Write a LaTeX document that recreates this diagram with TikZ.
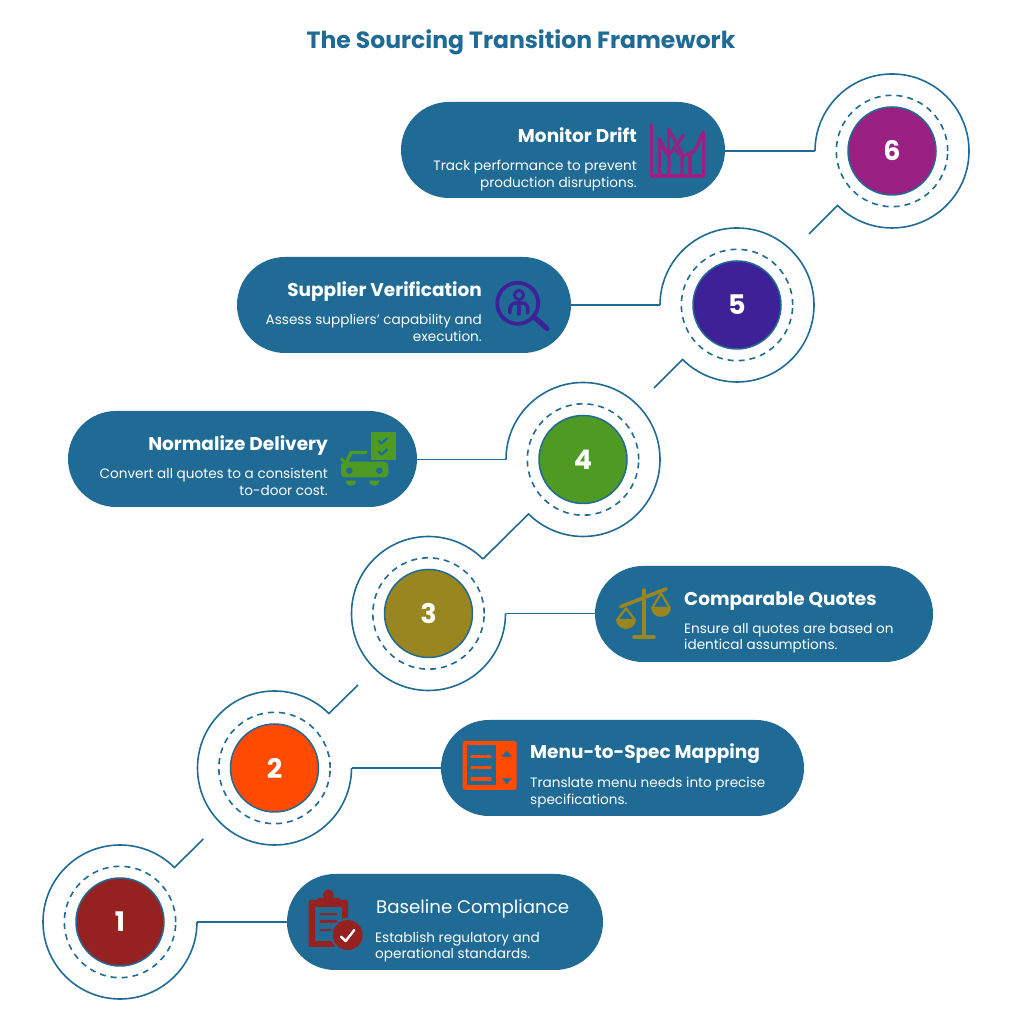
\documentclass[tikz,border=0pt]{standalone}
\usepackage{fontspec}
\setmainfont{Poppins}[Ligatures=ResetAll]
\usetikzlibrary{shapes.misc,calc}
\definecolor{teal}{HTML}{1F6B96}
\definecolor{cA}{HTML}{962121}
\definecolor{cB}{HTML}{FF4A00}
\definecolor{cC}{HTML}{9A8620}
\definecolor{cD}{HTML}{4E9A22}
\definecolor{cE}{HTML}{3E2196}
\definecolor{cF}{HTML}{9A2182}
\newcommand{\dg}[1]{\raisebox{-2pt}{#1}}
\tikzset{
  x=1pt,y=1pt,
  pill/.style={rounded rectangle,fill=teal,inner sep=0pt,minimum height=96pt},
  disc/.style={circle,draw=teal,line width=1.5pt,minimum size=88pt,inner sep=0pt,text=white,font=\fontsize{27}{27}\selectfont\bfseries},
  ringline/.style={draw=teal,line width=1.6pt},
  dashring/.style={draw=teal,line width=1.6pt,dash pattern=on 6pt off 5pt},
  head/.style={inner sep=0pt,text=white,font=\fontsize{18.5}{20}\selectfont\bfseries},
  body/.style={inner sep=0pt,text=white,font=\fontsize{13.6}{16.5}\selectfont},
  ico/.style={shift={#1},x=1pt,y=-1pt},
}
\begin{document}
\begin{tikzpicture}
\useasboundingbox (0,0) rectangle (1014,1024);
\node[inner sep=0pt,text=teal,font=\fontsize{23.5}{24}\selectfont\bfseries] (ttl) at (521,982) {The Sourcing Transition Framework};

% pills
\node[pill,minimum width=316pt] (p1) at (445,102) {};
\node[pill,minimum width=363pt] (p2) at (622.5,256) {};
\node[pill,minimum width=338pt] (p3) at (764,410) {};
\node[pill,minimum width=349pt] (p4) at (242.5,565) {};
\node[pill,minimum width=334pt] (p5) at (404,719) {};
\node[pill,minimum width=324pt] (p6) at (563,874) {};

% discs
\node[disc,fill=cA] (n1) at (120,102) {\dg{1}};
\node[disc,fill=cB] (n2) at (274.5,256) {\dg{2}};
\node[disc,fill=cC] (n3) at (428.5,410.5) {\dg{3}};
\node[disc,fill=cD] (n4) at (583,564.5) {\dg{4}};
\node[disc,fill=cE] (n5) at (737,719) {\dg{5}};
\node[disc,fill=cF] (n6) at (892,873) {\dg{6}};

% dashed rings
\foreach \n in {n1,n2,n3,n4,n5,n6} \draw[dashring] (\n) circle[radius=55.7];

% ends of the outer rings
\coordinate (e1) at ($(n1)+(77,0)$);
\coordinate (e2) at ($(n2)+(77,0)$);
\coordinate (e3) at ($(n3)+(77,0)$);
\coordinate (e4) at ($(n4)+(-77,0)$);
\coordinate (e5) at ($(n5)+(-77,0)$);
\coordinate (e6) at ($(n6)+(-77,0)$);
\coordinate (t1) at ($(n1)+(83.3,83)$);
\coordinate (t2) at ($(n2)+(83.5,83)$);
\coordinate (t4) at ($(n3)+(54.5,54.5)$);
\coordinate (t5) at ($(n5)+(-83,-83)$);
\coordinate (t6) at ($(n6)+(-83,-83)$);

% outer rings with tails
\draw[ringline] (e1) arc[start angle=0,end angle=-315,radius=77] -- (t1);
\draw[ringline] (e2) arc[start angle=0,end angle=-315,radius=77] -- (t2);
\draw[ringline] (e3) arc[start angle=0,end angle=-315,radius=77];
\draw[ringline] (e4) arc[start angle=180,end angle=-135,radius=77] -- (t4);
\draw[ringline] (e5) arc[start angle=180,end angle=-135,radius=77] -- (t5);
\draw[ringline] (e6) arc[start angle=180,end angle=-135,radius=77] -- (t6);

% links to pills
\draw[ringline] (e1) -- (e1 -| p1.west);
\draw[ringline] (e2) -- (e2 -| p2.west);
\draw[ringline] (e3) -- (e3 -| p3.west);
\draw[ringline] (e4) -- (e4 -| p4.east);
\draw[ringline] (e5) -- (e5 -| p5.east);
\draw[ringline] (e6) -- (e6 -| p6.east);

% texts
\node[head,anchor=base west,font=\fontsize{18.2}{20}\selectfont] (h1) at (376,110.5) {Baseline Compliance};
\node[body,anchor=north west,align=left] (b1) at (375,92.5) {Establish regulatory and\\operational standards.};
\node[head,anchor=base west] (h2) at (530,265) {Menu-to-Spec Mapping};
\node[body,anchor=north west,align=left] (b2) at (530,247) {Translate menu needs into precise\\specifications.};
\node[head,anchor=base west] (h3) at (684,418.5) {Comparable Quotes};
\node[body,anchor=north west,align=left] (b3) at (684,401) {Ensure all quotes are based on\\identical assumptions.};
\node[head,anchor=base east] (h4) at (328,573.5) {Normalize Delivery};
\node[body,anchor=north east,align=right] (b4) at (328,556) {Convert all quotes to a consistent\\to-door cost.};
\node[head,anchor=base east] (h5) at (482,727.5) {Supplier Verification};
\node[body,anchor=north east,align=right] (b5) at (482,710) {Assess suppliers' capability and\\execution.};
\node[head,anchor=base east] (h6) at (637,881.5) {Monitor Drift};
\node[body,anchor=north east,align=right] (b6) at (637,864) {Track performance to prevent\\production disruptions.};

% icon 1: clipboard with check
\begin{scope}[ico={(295,139)}]
  \fill[cA,rounded corners=1.5pt] (13.5,15) rectangle (53,62);
  \fill[cA] (33.3,10) circle[radius=5.5];
  \fill[cA,rounded corners=1pt] (22,13) rectangle (45,19);
  \fill[teal] (20,22) rectangle (47,56);
  \foreach \yy/\xe in {29.3/42,36.7/42,45/37} \draw[cA,line width=2.4pt] (25,\yy) -- (\xe,\yy);
  \fill[teal] (52.7,50) circle[radius=17];
  \fill[cA] (52.7,50) circle[radius=15];
  \draw[white,line width=2.4pt,line cap=round,line join=round] (46,51.7) -- (50.7,56) -- (59.3,45);
\end{scope}

% icon 2: list with arrows
\begin{scope}[ico={(450,294)}]
  \fill[cB,rounded corners=2.5pt] (12.7,11) rectangle (66.7,60);
  \fill[teal] (16.7,15) rectangle (46,55);
  \foreach \yy in {26.7,37.7,49} \draw[cB,line width=3.6pt,line cap=round] (22,\yy) -- (40,\yy);
  \fill[teal] (51.7,26.7) -- (61.7,26.7) -- (56.7,20.7) -- cycle;
  \fill[teal] (51.7,48.3) -- (61.7,48.3) -- (56.7,54.3) -- cycle;
\end{scope}

% icon 3: scales
\begin{scope}[ico={(605,449)}]
  \draw[cC,line width=3.6pt,line cap=round] (38.7,15) -- (38.7,60);
  \draw[cC,line width=3.6pt,line cap=round] (29,62.3) -- (49,62.3);
  \draw[cC,line width=3.6pt,line cap=round] (15.7,31.7) -- (61,14);
  \draw[cC,line width=2.2pt,line join=round] (12,45) -- (21,33.3) -- (30,45);
  \draw[cC,line width=2.2pt,line join=round] (47,33.3) -- (56,18.3) -- (65,33.3);
  \fill[cC] (11,44) -- (31,44) arc[start angle=0,end angle=180,radius=10] -- cycle;
  \fill[cC] (46,32) -- (66,32) arc[start angle=0,end angle=180,radius=10] -- cycle;
\end{scope}

% icon 4: car and checklist
\begin{scope}[ico={(330,604)}]
  \fill[cD] (40.7,12.3) rectangle (66,40);
  \draw[teal,line width=2.2pt,line join=round] (48.5,20.5) -- (51.5,23.5) -- (57.5,18);
  \draw[teal,line width=2.2pt,line join=round] (48.5,31.5) -- (51.5,34.5) -- (57.5,29);
  \fill[teal] (37.5,12) rectangle (40.7,42);
  \fill[cD,rounded corners=4pt] (11,41.7) rectangle (58.3,57.5);
  \draw[cD,line width=3.4pt,line join=round] (37,32.5) -- (21,32.5) -- (16,44);
  \draw[cD,line width=3pt,line cap=round] (11.5,39) -- (16,43);
  \fill[teal] (19.3,50.7) circle[radius=3.3];
  \fill[teal] (49.3,50.7) circle[radius=3.3];
  \fill[cD] (15.7,60.7) -- (26,60.7) arc[start angle=0,end angle=180,radius=5.15] -- cycle;
  \fill[cD] (39,60.7) -- (49.5,60.7) arc[start angle=0,end angle=180,radius=5.25] -- cycle;
\end{scope}

% icon 5: magnifier with figure
\begin{scope}[ico={(470,754)}]
  \draw[cE,line width=3.8pt] (47.7,33.3) circle[radius=20.5];
  \draw[cE,line width=5pt,line cap=round] (64.5,47.5) -- (77,58.5);
  \draw[cE,line width=2.8pt] (49,25) circle[radius=4.6];
  \draw[cE,line width=3.6pt,line cap=round,line join=round] (40,43) .. controls (39,36) and (42,33) .. (46,33) -- (52,33) .. controls (56,33) and (59,36) .. (57.5,43);
  \draw[cE,line width=3.6pt,line cap=round] (48.8,34) -- (48.8,44);
\end{scope}

% icon 6: drift chart
\begin{scope}[ico={(640,909)},cF,line width=3.1pt,line cap=round,line join=round]
  \draw (11.7,10) -- (11.7,61) -- (63.3,61) -- (63.3,17);
  \draw (19.3,60) -- (19.3,24) -- (29,42) -- (29,60);
  \draw (28.3,14) -- (28.3,42);
  \draw (28.3,14) -- (42,38) -- (42,60);
  \draw (43.5,20) -- (29,40) -- (21.5,32);
  \draw (36,35) .. controls (40,43) and (45,41) .. (50,38) .. controls (57,38) and (58,25) .. (63.3,17);
  \draw (50,60) -- (50,38);
\end{scope}
\end{tikzpicture}
\end{document}
